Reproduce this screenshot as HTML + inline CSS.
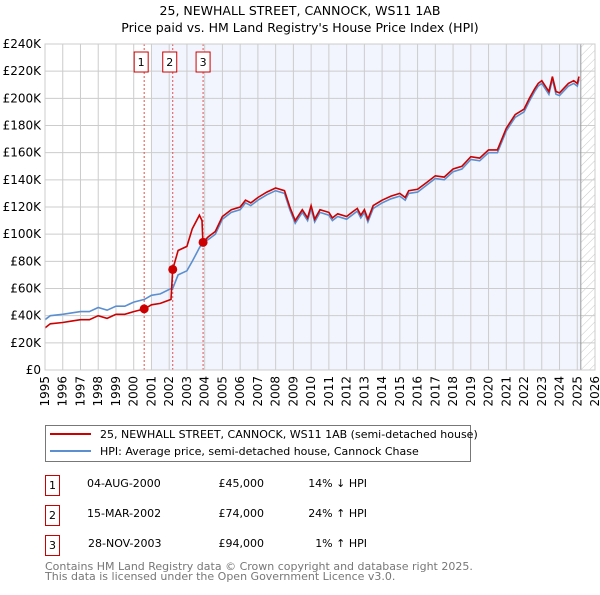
<!DOCTYPE html>
<html><head><meta charset="utf-8"><style>
body{margin:0;background:#fff;font-family:"Liberation Sans","DejaVu Sans",sans-serif;}
svg text{font-family:"DejaVu Sans","Liberation Sans",sans-serif;}
</style></head><body>
<svg id="chart" width="600" height="590" xmlns="http://www.w3.org/2000/svg">
<defs><pattern id="hatch" width="6" height="6" patternUnits="userSpaceOnUse" patternTransform="rotate(45)"><line x1="0" y1="0" x2="0" y2="6" stroke="#bbb" stroke-width="0.8"/></pattern></defs>
<text x="300" y="15" text-anchor="middle" font-size="12.5" fill="#000">25, NEWHALL STREET, CANNOCK, WS11 1AB</text>
<text x="300" y="32" text-anchor="middle" font-size="12.5" fill="#000">Price paid vs. HM Land Registry's House Price Index (HPI)</text>
<g id="plot"></g>
<g>
<rect x="45.5" y="425.5" width="425" height="36" fill="#fff" stroke="#777"/>
<line x1="50" y1="434" x2="91" y2="434" stroke="#cc0000" stroke-width="2"/>
<text x="100" y="438" font-size="11">25, NEWHALL STREET, CANNOCK, WS11 1AB (semi-detached house)</text>
<line x1="50" y1="451" x2="91" y2="451" stroke="#5b8fd0" stroke-width="2"/>
<text x="100" y="455" font-size="11">HPI: Average price, semi-detached house, Cannock Chase</text>
</g>
<g font-size="11">
<rect x="45.5" y="475.5" width="14" height="20" fill="none" stroke="#cc0000"/><text x="52.5" y="489" text-anchor="middle">1</text>
<text x="87" y="487">04-AUG-2000</text><text x="264" y="487" text-anchor="end">£45,000</text><text x="367" y="487" text-anchor="end">14% ↓ HPI</text>
<rect x="45.5" y="505.5" width="14" height="20" fill="none" stroke="#cc0000"/><text x="52.5" y="519" text-anchor="middle">2</text>
<text x="87" y="517">15-MAR-2002</text><text x="264" y="517" text-anchor="end">£74,000</text><text x="367" y="517" text-anchor="end">24% ↑ HPI</text>
<rect x="45.5" y="535.5" width="14" height="20" fill="none" stroke="#cc0000"/><text x="52.5" y="549" text-anchor="middle">3</text>
<text x="88" y="547">28-NOV-2003</text><text x="264" y="547" text-anchor="end">£94,000</text><text x="367" y="547" text-anchor="end">1% ↑ HPI</text>
</g>
<text x="45" y="570" font-size="11" fill="#777">Contains HM Land Registry data © Crown copyright and database right 2025.</text>
<text x="45" y="580" font-size="11" fill="#777">This data is licensed under the Open Government Licence v3.0.</text>
</svg>
<script>
const years = [1995,1995.3,1996,1996.5,1997,1997.5,1998,1998.5,1999,1999.5,2000,2000.6,2001,2001.5,2002.1,2002.2,2002.5,2003,2003.3,2003.7,2003.85,2003.9,2004.2,2004.6,2005,2005.5,2006,2006.3,2006.6,2007,2007.5,2008,2008.5,2008.8,2009.1,2009.5,2009.8,2010,2010.2,2010.5,2011,2011.2,2011.5,2012,2012.3,2012.6,2012.8,2013,2013.2,2013.5,2014,2014.5,2015,2015.3,2015.5,2016,2016.5,2017,2017.5,2018,2018.5,2019,2019.5,2020,2020.5,2021,2021.5,2022,2022.3,2022.6,2022.8,2023,2023.3,2023.4,2023.6,2023.8,2024,2024.5,2024.8,2025,2025.1];
const hpiValues = [37,40,41,42,43,43,46,44,47,47,50,52,55,56,60,60,70,73,80,90,93,94,96,100,111,116,118,123,121,125,129,132,130,118,108,116,110,119,109,116,114,110,113,111,114,117,112,116,109,119,123,126,128,125,130,131,136,141,140,146,148,155,154,160,160,176,186,190,198,205,209,211,205,203,214,203,202,209,211,209,214];
const priceValues = [31,34,35,36,37,37,40,38,41,41,43,45,48,49,52,74,88,91,104,114,110,94,98,102,113,118,120,125,123,127,131,134,132,120,110,118,112,121,111,118,116,112,115,113,116,119,114,118,111,121,125,128,130,127,132,133,138,143,142,148,150,157,156,162,162,178,188,192,200,207,211,213,207,205,216,205,204,211,213,211,216];
const saleYears = [2000.59,2002.2,2003.91];
const salePrices = [45,74,94];
const yTicks = [0,20,40,60,80,100,120,140,160,180,200,220,240];
const xTicks = [1995,1996,1997,1998,1999,2000,2001,2002,2003,2004,2005,2006,2007,2008,2009,2010,2011,2012,2013,2014,2015,2016,2017,2018,2019,2020,2021,2022,2023,2024,2025,2026];

const X0=45,X1=595,Y0=370,Y1=44;
const xs=y=>X0+(y-1995)/31*(X1-X0);
const ys=v=>Y0-v/240*(Y0-Y1);
const NS="http://www.w3.org/2000/svg";
const g=document.getElementById('plot');
function mk(t,a){const e=document.createElementNS(NS,t);for(const k in a)e.setAttribute(k,a[k]);g.appendChild(e);return e;}

let r=mk('rect',{x:xs(2001),y:Y1,width:xs(2025.2)-xs(2001),height:Y0-Y1,fill:'#f2f5fd'});


r=mk('rect',{x:xs(2025.2),y:Y1,width:X1-xs(2025.2),height:Y0-Y1,fill:'url(#hatch)'});


yTicks.forEach(v=>{
  const l=mk('line',{x1:X0,x2:X1,y1:ys(v),y2:ys(v),stroke:'#ccc','stroke-width':1});
  
  
  const t=mk('text',{x:X0-4,y:ys(v)+4,'text-anchor':'end','font-size':12});
  t.textContent=v===0?'£0':'£'+v+'K';
  
  
});
xTicks.forEach(y=>{
  const l=mk('line',{x1:xs(y),x2:xs(y),y1:Y1,y2:Y0,stroke:'#ccc','stroke-width':1});
  
  
  const t=mk('text',{transform:`translate(${xs(y)+4},${Y0+6}) rotate(-90)`,'text-anchor':'end','font-size':12});
  t.textContent=y;
  
  
});
const vl=mk('line',{x1:xs(2025.2),x2:xs(2025.2),y1:Y1,y2:Y0,stroke:'#999','stroke-width':1});


saleYears.forEach((y,i)=>{
  const l=mk('line',{x1:xs(y),x2:xs(y),y1:Y1,y2:Y0,stroke:'#e05050','stroke-width':1,'stroke-dasharray':'2,2'});
  
  
  const bx=mk('rect',{x:xs(y)-8-(i==2?-1:2),y:52,width:14,height:20,fill:'#fff',stroke:'#cc0000'});
  
  
  const t=mk('text',{x:xs(y)-1-(i==2?-1:2),y:66,'text-anchor':'middle','font-size':11});
  t.textContent=i+1;
  
  
});
function path(vals){return vals.map((v,i)=>(i?'L':'M')+xs(years[i]).toFixed(1)+','+ys(v).toFixed(1)).join('');}
const hp=mk('path',{d:path(hpiValues),fill:'none',stroke:'#5b8fd0','stroke-width':1.6});


const pp=mk('path',{d:path(priceValues),fill:'none',stroke:'#cc0000','stroke-width':1.6});


saleYears.forEach((y,i)=>{
  const c=mk('circle',{cx:xs(y),cy:ys(salePrices[i]),r:4.5,fill:'#cc0000'});
  
  
});
const fr=mk('rect',{x:X0,y:Y1,width:X1-X0,height:Y0-Y1,fill:'none',stroke:'#ccc'});


</script>
</body></html>
